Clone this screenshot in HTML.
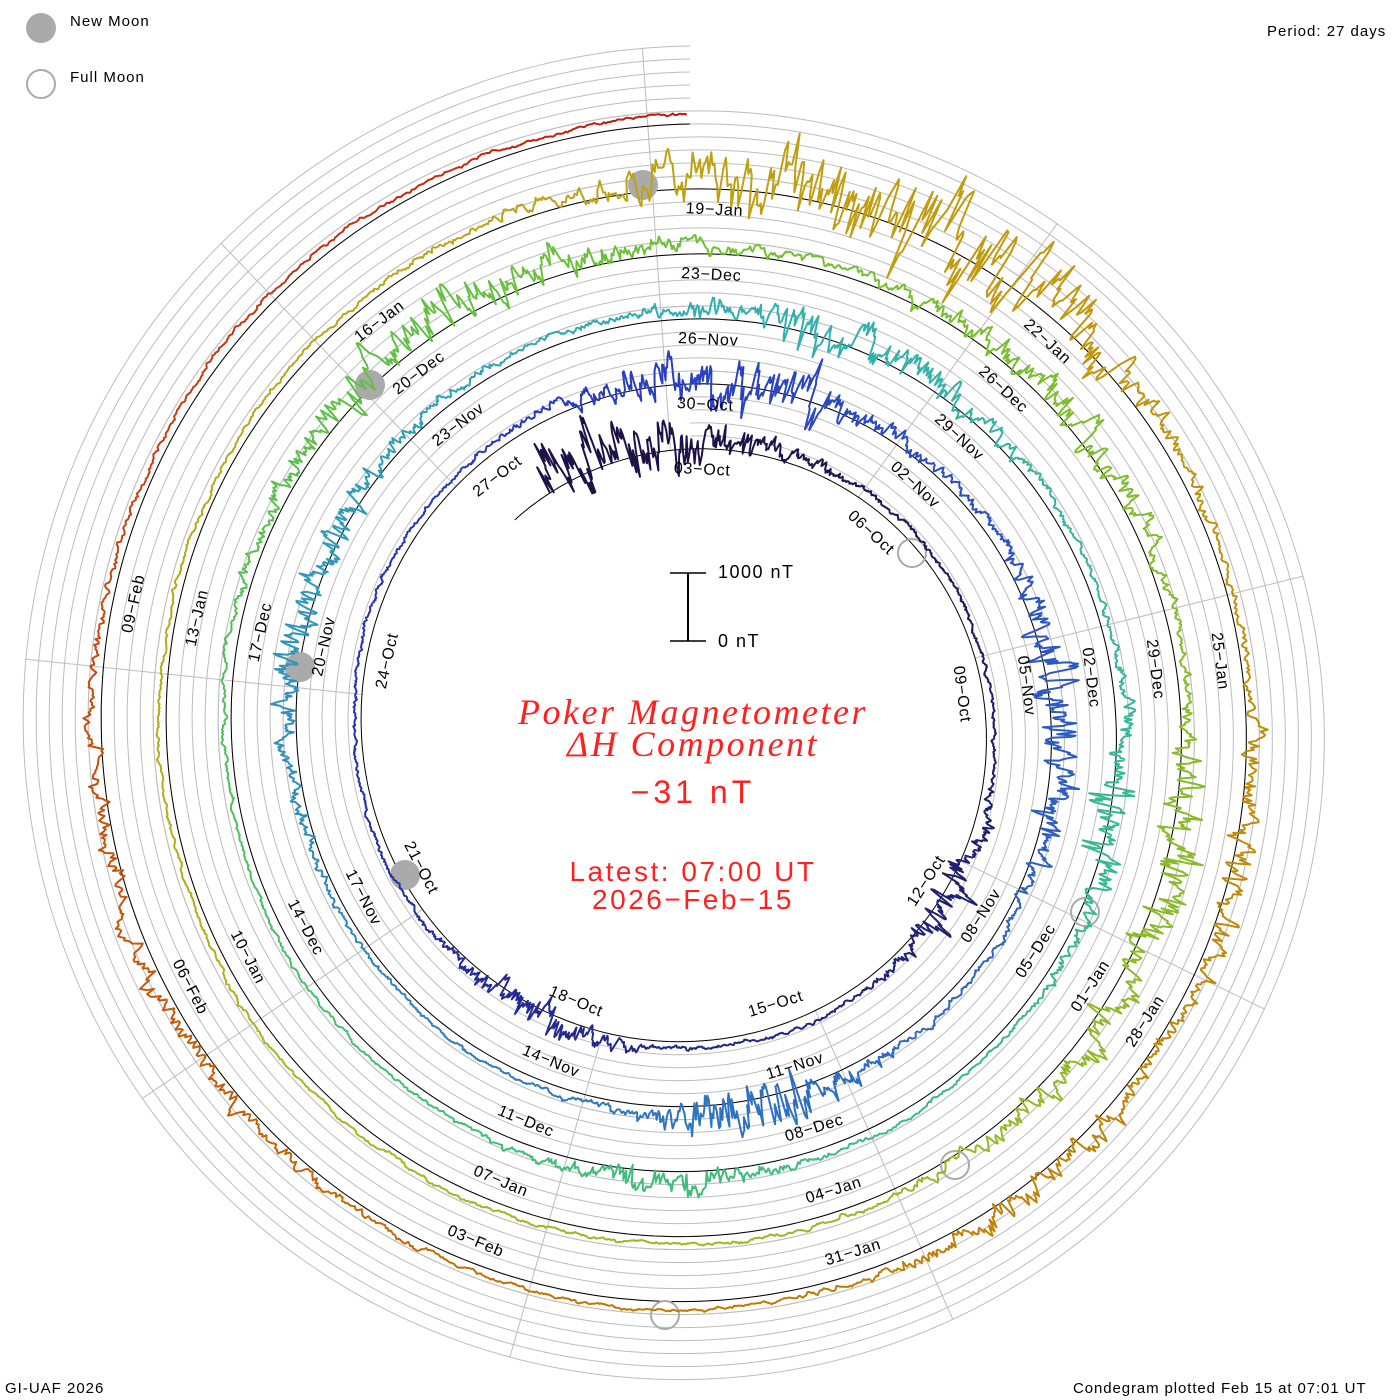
<!DOCTYPE html>
<html><head><meta charset="utf-8"><style>
html,body{margin:0;padding:0;background:#fff;}
#c{position:relative;width:1400px;height:1400px;overflow:hidden;font-family:"Liberation Sans",sans-serif;}
.t{position:absolute;white-space:nowrap;}
</style></head><body><div id="c">
<svg id="s" width="1400" height="1400" xmlns="http://www.w3.org/2000/svg" style="position:absolute;left:0;top:0">
<g id="rings" fill="none" stroke="#bdbdbd" stroke-width="1"></g>
<g id="spokes" stroke="#bdbdbd" stroke-width="1"></g>
<path id="base" fill="none" stroke="#000" stroke-width="1"/>
<g id="moons"></g>
<g id="data" fill="none" stroke-width="2" stroke-linejoin="round"></g>
<g id="labels" font-family="Liberation Sans, sans-serif" font-size="16" fill="#000" letter-spacing="0.8"></g>
<circle cx="41" cy="28" r="15" fill="#aaa"/>
<circle cx="41" cy="84" r="14" fill="none" stroke="#aaa" stroke-width="2"/>
<line x1="688" y1="573" x2="688" y2="641" stroke="#000" stroke-width="2"/>
<line x1="670" y1="573" x2="706" y2="573" stroke="#000" stroke-width="1.5"/>
<line x1="670" y1="641" x2="706" y2="641" stroke="#000" stroke-width="1.5"/>
</svg>
<div class="t" style="left:70px;top:13px;font-size:15px;letter-spacing:1px">New Moon</div>
<div class="t" style="left:70px;top:69px;font-size:15px;letter-spacing:1px">Full Moon</div>
<div class="t" style="left:1267px;top:23px;font-size:15px;letter-spacing:1px">Period: 27 days</div>
<div class="t" style="left:5px;top:1380px;font-size:15px;letter-spacing:1px">GI-UAF 2026</div>
<div class="t" style="left:1073px;top:1380px;font-size:15px;letter-spacing:0.9px">Condegram plotted Feb 15 at 07:01 UT</div>
<div class="t" style="left:718px;top:562px;font-size:18px;letter-spacing:1.5px">1000 nT</div>
<div class="t" style="left:718px;top:631px;font-size:18px;letter-spacing:1.5px">0 nT</div>
<div class="t" style="left:393px;width:600px;top:696px;text-align:center;color:#ff2020;font-family:'Liberation Serif',serif;font-style:italic;font-size:36px;letter-spacing:2.5px;line-height:32px">Poker Magnetometer<br>ΔH Component</div>
<div class="t" style="left:393px;width:600px;top:774px;text-align:center;color:#ff2020;font-size:32px;letter-spacing:4px">−31 nT</div>
<div class="t" style="left:393px;width:600px;top:858px;text-align:center;color:#ff2020;font-size:28px;letter-spacing:2.5px;line-height:28px">Latest: 07:00 UT<br>2026−Feb−15</div>
</div>
<script>
var NS="http://www.w3.org/2000/svg";
var cx=690,cy=729;
function R(p){return 280+65*p/360;}
function pt(p,r){var a=p*Math.PI/180;return [cx+r*Math.sin(a),cy-r*Math.cos(a)];}
function el(t,at,par){var e=document.createElementNS(NS,t);for(var k in at)e.setAttribute(k,at[k]);par.appendChild(e);return e;}
function spiralPath(p0,p1,off){var s="";for(var p=p0;p<=p1;p+=1){var q=pt(p,R(p)+off);s+=(p==p0?"M":"L")+q[0].toFixed(1)+" "+q[1].toFixed(1);}return s;}
var rings=document.getElementById("rings");
for(var k=1;k<=6;k++)el("path",{d:spiralPath(0,1800,k*13)},rings);
document.getElementById("base").setAttribute("d",spiralPath(-40,1800,0));
var sp=document.getElementById("spokes");
for(var j=0;j<9;j++){var ph=-4+40*j;var pn=((ph%360)+360)%360;var rin=R(ph<0?0:pn);var rout=R(pn+1440)+78;var a=pt(pn,rin),b=pt(pn,rout);el("line",{x1:a[0],y1:a[1],x2:b[0],y2:b[1]},sp);}
var mo=document.getElementById("moons");
[[643,185],[370,385],[300,667],[405,875]].forEach(function(c){el("circle",{cx:c[0],cy:c[1],r:15,fill:"#aaa"},mo);});
[[912,553],[1085,912],[955,1165],[665,1315]].forEach(function(c){el("circle",{cx:c[0],cy:c[1],r:14,fill:"none",stroke:"#aaa","stroke-width":2},mo);});
var labs=["03-Oct","06-Oct","09-Oct","12-Oct","15-Oct","18-Oct","21-Oct","24-Oct","27-Oct","30-Oct","02-Nov","05-Nov","08-Nov","11-Nov","14-Nov","17-Nov","20-Nov","23-Nov","26-Nov","29-Nov","02-Dec","05-Dec","08-Dec","11-Dec","14-Dec","17-Dec","20-Dec","23-Dec","26-Dec","29-Dec","01-Jan","04-Jan","07-Jan","10-Jan","13-Jan","16-Jan","19-Jan","22-Jan","25-Jan","28-Jan","31-Jan","03-Feb","06-Feb","09-Feb"];
var lg=document.getElementById("labels");
labs.forEach(function(L,i){var d=2+3*i;var ph=360*(d-2)/27-4+6.7;var q=pt(ph,R(ph)-21);var m=((ph%360)+360)%360;var rot=(m>90&&m<270)?m-180:m;
var t=el("text",{x:q[0].toFixed(1),y:q[1].toFixed(1),"text-anchor":"middle","dominant-baseline":"central",transform:"rotate("+rot.toFixed(1)+" "+q[0].toFixed(1)+" "+q[1].toFixed(1)+")"},lg);t.textContent=L.replace("-","−");});
var seed=12345;function rnd(){seed|=0;seed=seed+0x6D2B79F5|0;var t=Math.imul(seed^seed>>>15,1|seed);t=t+Math.imul(t^t>>>7,61|t)^t;return((t^t>>>14)>>>0)/4294967296;}
function gn(){return (rnd()+rnd()+rnd()+rnd()-2)*1.7;}
var storms=[[1,10,1.6],[11.5,5,0.7],[18,5,0.8],[30,9,1.2],[36,7,1.2],[42,10,0.8],[51,5,1.5],[58,7,1.2],[64,7,0.8],[70,5,0.7],[81,7,1.5],[87,5,1.2],[91,8,0.6],[93,5,1],[112,18,1.4],[118,5,0.8],[121,5,0.8],[129,3,1.5]];
function A(d){var s=0.5;storms.forEach(function(x){var z=(d-x[0])/x[2];s+=x[1]*Math.exp(-z*z/2);});return s;}
var stops=[[0,[28,18,72]],[0.9,[40,56,192]],[1.6,[48,128,192]],[2.0,[48,176,176]],[2.6,[64,192,112]],[3.0,[112,192,48]],[3.6,[170,180,30]],[4.0,[192,160,16]],[4.5,[192,120,0]],[4.8,[200,64,16]],[5.1,[192,0,0]]];
function col(t){for(var i=0;i<stops.length-1;i++){if(t<=stops[i+1][0]){var f=(t-stops[i][0])/(stops[i+1][0]-stops[i][0]);f=Math.max(0,Math.min(1,f));var a=stops[i][1],b=stops[i+1][1];return "rgb("+Math.round(a[0]+(b[0]-a[0])*f)+","+Math.round(a[1]+(b[1]-a[1])*f)+","+Math.round(a[2]+(b[2]-a[2])*f)+")";}}return "rgb(192,0,0)";}
var dg=document.getElementById("data");
var q=0,w=0,step=1/72,pts=[],dEnd=137.29;
for(var d=0;d<=dEnd;d+=step){q+=gn()*0.3-0.03*(q-3);w+=gn()*1.2-0.3*w;var a=A(d);var off=5+q+a*w;var ph=360*(d-2)/27-4;var p=pt(ph,R(ph)+off);pts.push([p,ph]);}
var seg=60;
for(var i=0;i<pts.length-1;i+=seg){var s="";for(var j2=i;j2<=Math.min(i+seg,pts.length-1);j2++){s+=(j2==i?"M":"L")+pts[j2][0][0].toFixed(1)+" "+pts[j2][0][1].toFixed(1);}el("path",{d:s,stroke:col(pts[i][1]/360)},dg);}
</script>
</body></html>
